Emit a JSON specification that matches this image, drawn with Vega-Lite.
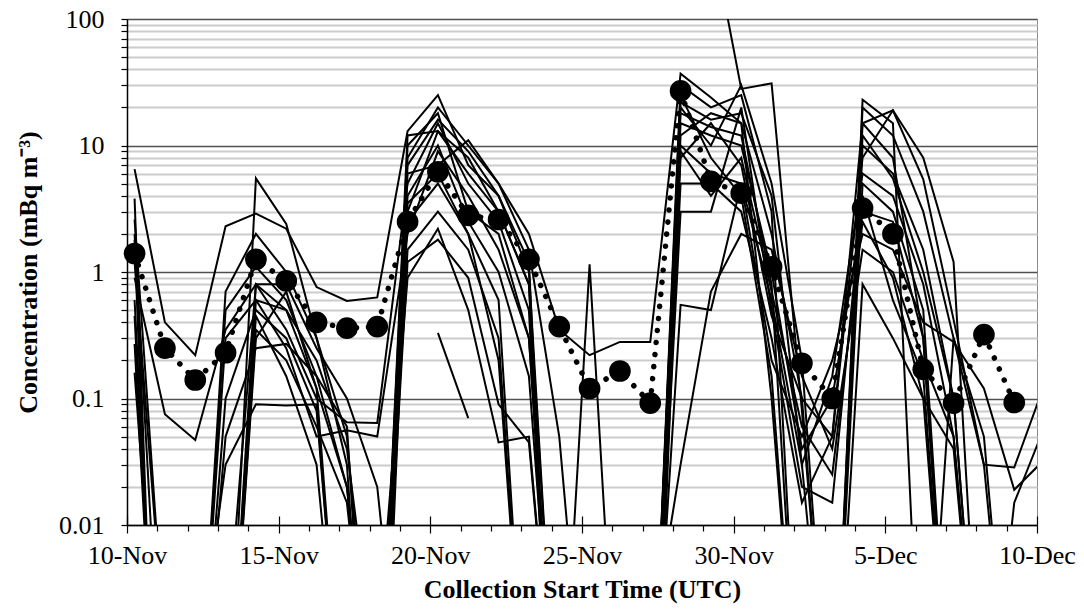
{
"$schema":"https://vega.github.io/schema/vega-lite/v6.json",
"width":910,"height":506,
"autosize":{"type":"none"},
"padding":{"left":127,"top":19,"right":47,"bottom":89},
"background":"white",
"config":{"view":{"stroke":"#8c8c8c","strokeWidth":1},"font":"Liberation Serif"},
"datasets":{
"ens":[
{"m":1,"t":"2011-11-10T06:00","v":6.5},{"m":1,"t":"2011-11-11T06:00","v":0.40},{"m":1,"t":"2011-11-12T06:00","v":0.22},{"m":1,"t":"2011-11-13T06:00","v":2.3},{"m":1,"t":"2011-11-14T06:00","v":2.9},{"m":1,"t":"2011-11-15T06:00","v":2.2},{"m":1,"t":"2011-11-16T06:00","v":0.76},{"m":1,"t":"2011-11-17T06:00","v":0.59},{"m":1,"t":"2011-11-18T06:00","v":0.63},{"m":1,"t":"2011-11-19T06:00","v":13},{"m":1,"t":"2011-11-20T06:00","v":25},{"m":1,"t":"2011-11-21T06:00","v":7},{"m":1,"t":"2011-11-22T06:00","v":4},{"m":1,"t":"2011-11-23T06:00","v":1.2},{"m":1,"t":"2011-11-24T06:00","v":0.00001},
{"m":2,"t":"2011-11-10T06:00","v":3.8},{"m":2,"t":"2011-11-11T06:00","v":0.000001},
{"m":3,"t":"2011-11-10T06:00","v":2.6},{"m":3,"t":"2011-11-11T06:00","v":0.001},
{"m":4,"t":"2011-11-10T06:00","v":1.8},{"m":4,"t":"2011-11-11T06:00","v":0.000001},{"m":4,"t":"2011-11-13T06:00","v":0.0001},{"m":4,"t":"2011-11-14T06:00","v":0.8},{"m":4,"t":"2011-11-15T06:00","v":0.5},{"m":4,"t":"2011-11-16T06:00","v":0.12},{"m":4,"t":"2011-11-17T06:00","v":0.0001},
{"m":5,"t":"2011-11-10T06:00","v":0.45},{"m":5,"t":"2011-11-11T06:00","v":0.00001},{"m":5,"t":"2011-11-13T06:00","v":0.0001},{"m":5,"t":"2011-11-14T06:00","v":5.5},{"m":5,"t":"2011-11-15T06:00","v":2.4},{"m":5,"t":"2011-11-16T06:00","v":0.3},{"m":5,"t":"2011-11-17T06:00","v":0.05},{"m":5,"t":"2011-11-18T06:00","v":0.0001},
{"m":6,"t":"2011-11-10T06:00","v":0.27},{"m":6,"t":"2011-11-11T06:00","v":0.00001},{"m":6,"t":"2011-11-13T06:00","v":0.03},{"m":6,"t":"2011-11-14T06:00","v":0.09},{"m":6,"t":"2011-11-15T06:00","v":0.088},{"m":6,"t":"2011-11-16T06:00","v":0.09},{"m":6,"t":"2011-11-17T06:00","v":0.0001},
{"m":7,"t":"2011-11-10T06:00","v":0.16},{"m":7,"t":"2011-11-11T06:00","v":0.0001},{"m":7,"t":"2011-11-12T06:00","v":0.0001},{"m":7,"t":"2011-11-13T06:00","v":0.7},{"m":7,"t":"2011-11-14T06:00","v":2.0},{"m":7,"t":"2011-11-15T06:00","v":1.0},{"m":7,"t":"2011-11-16T06:00","v":0.3},{"m":7,"t":"2011-11-17T06:00","v":0.03},{"m":7,"t":"2011-11-18T06:00","v":0.00001},
{"m":8,"t":"2011-11-10T06:00","v":1.2},{"m":8,"t":"2011-11-11T06:00","v":0.001},{"m":8,"t":"2011-11-12T06:00","v":0.0001},{"m":8,"t":"2011-11-13T06:00","v":0.5},{"m":8,"t":"2011-11-14T06:00","v":1.1},{"m":8,"t":"2011-11-15T06:00","v":0.6},{"m":8,"t":"2011-11-16T06:00","v":0.15},{"m":8,"t":"2011-11-17T06:00","v":0.02},{"m":8,"t":"2011-11-18T06:00","v":0.0001},
{"m":9,"t":"2011-11-10T06:00","v":0.9},{"m":9,"t":"2011-11-11T06:00","v":0.075},{"m":9,"t":"2011-11-12T06:00","v":0.047},{"m":9,"t":"2011-11-13T06:00","v":0.35},{"m":9,"t":"2011-11-14T06:00","v":0.8},{"m":9,"t":"2011-11-15T06:00","v":0.35},{"m":9,"t":"2011-11-16T06:00","v":0.1},{"m":9,"t":"2011-11-17T06:00","v":0.065},{"m":9,"t":"2011-11-18T06:00","v":0.064},{"m":9,"t":"2011-11-19T06:00","v":5},{"m":9,"t":"2011-11-20T06:00","v":15},{"m":9,"t":"2011-11-21T06:00","v":5},{"m":9,"t":"2011-11-22T06:00","v":2.5},{"m":9,"t":"2011-11-23T06:00","v":0.5},{"m":9,"t":"2011-11-24T06:00","v":0.00001},
{"m":10,"t":"2011-11-12T06:00","v":0.0001},{"m":10,"t":"2011-11-13T06:00","v":0.3},{"m":10,"t":"2011-11-14T06:00","v":0.6},{"m":10,"t":"2011-11-15T06:00","v":0.25},{"m":10,"t":"2011-11-16T06:00","v":0.05},{"m":10,"t":"2011-11-17T06:00","v":0.056},{"m":10,"t":"2011-11-18T06:00","v":0.05},{"m":10,"t":"2011-11-19T06:00","v":2},{"m":10,"t":"2011-11-20T06:00","v":9},{"m":10,"t":"2011-11-21T06:00","v":4},{"m":10,"t":"2011-11-22T06:00","v":1.5},{"m":10,"t":"2011-11-23T06:00","v":0.3},{"m":10,"t":"2011-11-24T06:00","v":0.0001},
{"m":11,"t":"2011-11-12T06:00","v":0.0001},{"m":11,"t":"2011-11-13T06:00","v":0.1},{"m":11,"t":"2011-11-14T06:00","v":0.5},{"m":11,"t":"2011-11-15T06:00","v":0.3},{"m":11,"t":"2011-11-16T06:00","v":0.08},{"m":11,"t":"2011-11-17T06:00","v":0.0001},{"m":11,"t":"2011-11-18T06:00","v":0.0001},{"m":11,"t":"2011-11-19T06:00","v":8},{"m":11,"t":"2011-11-20T06:00","v":20},{"m":11,"t":"2011-11-21T06:00","v":10},{"m":11,"t":"2011-11-22T06:00","v":5},{"m":11,"t":"2011-11-23T06:00","v":2},{"m":11,"t":"2011-11-24T06:00","v":0.35},{"m":11,"t":"2011-11-25T06:00","v":0.22},{"m":11,"t":"2011-11-26T06:00","v":0.28},{"m":11,"t":"2011-11-27T06:00","v":0.28},{"m":11,"t":"2011-11-28T06:00","v":37},{"m":11,"t":"2011-11-29T06:00","v":24},{"m":11,"t":"2011-11-30T06:00","v":15},{"m":11,"t":"2011-12-01T06:00","v":2},{"m":11,"t":"2011-12-02T06:00","v":0.1},{"m":11,"t":"2011-12-03T06:00","v":0.05},{"m":11,"t":"2011-12-04T06:00","v":15},{"m":11,"t":"2011-12-05T06:00","v":19},{"m":11,"t":"2011-12-06T06:00","v":5.4},{"m":11,"t":"2011-12-07T06:00","v":0.42},{"m":11,"t":"2011-12-08T06:00","v":0.03},{"m":11,"t":"2011-12-09T06:00","v":0.0285},{"m":11,"t":"2011-12-10T06:00","v":0.13},
{"m":12,"t":"2011-11-13T06:00","v":0.0001},{"m":12,"t":"2011-11-14T06:00","v":0.3},{"m":12,"t":"2011-11-15T06:00","v":0.7},{"m":12,"t":"2011-11-16T06:00","v":0.12},{"m":12,"t":"2011-11-17T06:00","v":0.02},{"m":12,"t":"2011-11-18T06:00","v":0.0001},{"m":12,"t":"2011-11-19T06:00","v":3},{"m":12,"t":"2011-11-20T06:00","v":13},{"m":12,"t":"2011-11-21T06:00","v":8},{"m":12,"t":"2011-11-22T06:00","v":3},{"m":12,"t":"2011-11-23T06:00","v":0.8},{"m":12,"t":"2011-11-24T06:00","v":0.00001},
{"m":13,"t":"2011-11-12T06:00","v":0.0001},{"m":13,"t":"2011-11-13T06:00","v":0.05},{"m":13,"t":"2011-11-14T06:00","v":0.25},{"m":13,"t":"2011-11-15T06:00","v":0.27},{"m":13,"t":"2011-11-16T06:00","v":0.15},{"m":13,"t":"2011-11-17T06:00","v":0.06},{"m":13,"t":"2011-11-18T06:00","v":0.00001},
{"m":14,"t":"2011-11-18T06:00","v":0.0001},{"m":14,"t":"2011-11-19T06:00","v":10},{"m":14,"t":"2011-11-20T06:00","v":18},{"m":14,"t":"2011-11-21T06:00","v":3},{"m":14,"t":"2011-11-22T06:00","v":2},{"m":14,"t":"2011-11-23T06:00","v":0.3},{"m":14,"t":"2011-11-24T06:00","v":0.0001},
{"m":15,"t":"2011-11-18T06:00","v":0.0001},{"m":15,"t":"2011-11-19T06:00","v":6},{"m":15,"t":"2011-11-20T06:00","v":7},{"m":15,"t":"2011-11-21T06:00","v":11},{"m":15,"t":"2011-11-22T06:00","v":5},{"m":15,"t":"2011-11-23T06:00","v":1.5},{"m":15,"t":"2011-11-24T06:00","v":0.05},{"m":15,"t":"2011-11-25T06:00","v":0.0001},
{"m":16,"t":"2011-11-18T06:00","v":0.0001},{"m":16,"t":"2011-11-19T06:00","v":2.5},{"m":16,"t":"2011-11-20T06:00","v":5},{"m":16,"t":"2011-11-21T06:00","v":2},{"m":16,"t":"2011-11-22T06:00","v":0.6},{"m":16,"t":"2011-11-23T06:00","v":0.0001},
{"m":17,"t":"2011-11-18T06:00","v":0.0001},{"m":17,"t":"2011-11-19T06:00","v":1.5},{"m":17,"t":"2011-11-20T06:00","v":3},{"m":17,"t":"2011-11-21T06:00","v":1.5},{"m":17,"t":"2011-11-22T06:00","v":0.3},{"m":17,"t":"2011-11-23T06:00","v":0.0001},
{"m":18,"t":"2011-11-18T06:00","v":0.001},{"m":18,"t":"2011-11-19T06:00","v":0.9},{"m":18,"t":"2011-11-20T06:00","v":2.2},{"m":18,"t":"2011-11-21T06:00","v":0.5},{"m":18,"t":"2011-11-22T06:00","v":0.045},{"m":18,"t":"2011-11-23T06:00","v":0.05},{"m":18,"t":"2011-11-24T06:00","v":0.0001},
{"m":19,"t":"2011-11-20T06:00","v":0.33},{"m":19,"t":"2011-11-21T06:00","v":0.07},
{"m":20,"t":"2011-11-18T06:00","v":0.0001},{"m":20,"t":"2011-11-19T06:00","v":12},{"m":20,"t":"2011-11-20T06:00","v":13},{"m":20,"t":"2011-11-21T06:00","v":6},{"m":20,"t":"2011-11-22T06:00","v":3},{"m":20,"t":"2011-11-23T06:00","v":0.8},{"m":20,"t":"2011-11-24T06:00","v":0.0001},{"m":20,"t":"2011-11-25T06:00","v":1.15},{"m":20,"t":"2011-11-26T06:00","v":0.0001},
{"m":21,"t":"2011-11-27T06:00","v":0.0001},{"m":21,"t":"2011-11-28T06:00","v":30},{"m":21,"t":"2011-11-29T06:00","v":20},{"m":21,"t":"2011-11-30T06:00","v":25},{"m":21,"t":"2011-12-01T06:00","v":3},{"m":21,"t":"2011-12-02T06:00","v":0.0001},{"m":21,"t":"2011-12-03T06:00","v":0.0001},{"m":21,"t":"2011-12-04T06:00","v":10},{"m":21,"t":"2011-12-05T06:00","v":6},{"m":21,"t":"2011-12-06T06:00","v":1.5},{"m":21,"t":"2011-12-07T06:00","v":0.1},{"m":21,"t":"2011-12-08T06:00","v":0.0001},
{"m":22,"t":"2011-11-27T06:00","v":0.0001},{"m":22,"t":"2011-11-28T06:00","v":20},{"m":22,"t":"2011-11-29T06:00","v":10},{"m":22,"t":"2011-11-30T06:00","v":30},{"m":22,"t":"2011-12-01T06:00","v":5},{"m":22,"t":"2011-12-02T06:00","v":0.2},{"m":22,"t":"2011-12-03T06:00","v":0.0001},{"m":22,"t":"2011-12-04T06:00","v":20},{"m":22,"t":"2011-12-05T06:00","v":12},{"m":22,"t":"2011-12-06T06:00","v":3},{"m":22,"t":"2011-12-07T06:00","v":0.3},{"m":22,"t":"2011-12-08T06:00","v":0.03},{"m":22,"t":"2011-12-09T06:00","v":0.0001},
{"m":23,"t":"2011-11-29T06:00","v":500},{"m":23,"t":"2011-11-30T06:00","v":28},{"m":23,"t":"2011-12-01T06:00","v":31},{"m":23,"t":"2011-12-02T06:00","v":0.08},{"m":23,"t":"2011-12-03T06:00","v":0.0001},
{"m":24,"t":"2011-11-27T06:00","v":0.0001},{"m":24,"t":"2011-11-28T06:00","v":15},{"m":24,"t":"2011-11-29T06:00","v":12},{"m":24,"t":"2011-11-30T06:00","v":10},{"m":24,"t":"2011-12-01T06:00","v":1},{"m":24,"t":"2011-12-02T06:00","v":0.04},{"m":24,"t":"2011-12-03T06:00","v":0.1},{"m":24,"t":"2011-12-04T06:00","v":3},{"m":24,"t":"2011-12-05T06:00","v":2.5},{"m":24,"t":"2011-12-06T06:00","v":0.3},{"m":24,"t":"2011-12-07T06:00","v":0.0001},
{"m":25,"t":"2011-11-27T06:00","v":0.00001},{"m":25,"t":"2011-11-28T06:00","v":10},{"m":25,"t":"2011-11-29T06:00","v":6},{"m":25,"t":"2011-11-30T06:00","v":5},{"m":25,"t":"2011-12-01T06:00","v":0.6},{"m":25,"t":"2011-12-02T06:00","v":0.03},{"m":25,"t":"2011-12-03T06:00","v":0.15},{"m":25,"t":"2011-12-04T06:00","v":6},{"m":25,"t":"2011-12-05T06:00","v":4},{"m":25,"t":"2011-12-06T06:00","v":0.8},{"m":25,"t":"2011-12-07T06:00","v":0.05},{"m":25,"t":"2011-12-08T06:00","v":0.0001},
{"m":26,"t":"2011-11-27T06:00","v":0.0001},{"m":26,"t":"2011-11-28T06:00","v":8},{"m":26,"t":"2011-11-29T06:00","v":15},{"m":26,"t":"2011-11-30T06:00","v":7},{"m":26,"t":"2011-12-01T06:00","v":0.45},{"m":26,"t":"2011-12-02T06:00","v":0.1},{"m":26,"t":"2011-12-03T06:00","v":0.0001},{"m":26,"t":"2011-12-04T06:00","v":23},{"m":26,"t":"2011-12-05T06:00","v":15},{"m":26,"t":"2011-12-06T06:00","v":0.0001},
{"m":27,"t":"2011-11-27T06:00","v":0.0001},{"m":27,"t":"2011-11-28T06:00","v":5},{"m":27,"t":"2011-11-29T06:00","v":5},{"m":27,"t":"2011-11-30T06:00","v":3},{"m":27,"t":"2011-12-01T06:00","v":0.3},{"m":27,"t":"2011-12-02T06:00","v":0.015},{"m":27,"t":"2011-12-03T06:00","v":0.05},{"m":27,"t":"2011-12-04T06:00","v":8},{"m":27,"t":"2011-12-05T06:00","v":19},{"m":27,"t":"2011-12-06T06:00","v":8},{"m":27,"t":"2011-12-07T06:00","v":1.2},{"m":27,"t":"2011-12-08T06:00","v":0.0001},
{"m":28,"t":"2011-11-27T06:00","v":0.001},{"m":28,"t":"2011-11-28T06:00","v":0.03},{"m":28,"t":"2011-11-29T06:00","v":0.7},{"m":28,"t":"2011-11-30T06:00","v":2},{"m":28,"t":"2011-12-01T06:00","v":1.5},{"m":28,"t":"2011-12-02T06:00","v":0.15},{"m":28,"t":"2011-12-03T06:00","v":0.04},{"m":28,"t":"2011-12-04T06:00","v":1.5},{"m":28,"t":"2011-12-05T06:00","v":1},{"m":28,"t":"2011-12-06T06:00","v":0.2},{"m":28,"t":"2011-12-07T06:00","v":0.05},{"m":28,"t":"2011-12-08T06:00","v":0.0001},
{"m":29,"t":"2011-11-27T06:00","v":0.0001},{"m":29,"t":"2011-11-28T06:00","v":3},{"m":29,"t":"2011-11-29T06:00","v":3},{"m":29,"t":"2011-11-30T06:00","v":20},{"m":29,"t":"2011-12-01T06:00","v":0.5},{"m":29,"t":"2011-12-02T06:00","v":0.02},{"m":29,"t":"2011-12-03T06:00","v":0.015},{"m":29,"t":"2011-12-04T06:00","v":4},{"m":29,"t":"2011-12-05T06:00","v":0.6},{"m":29,"t":"2011-12-06T06:00","v":0.15},{"m":29,"t":"2011-12-07T06:00","v":0.0001},
{"m":30,"t":"2011-11-27T06:00","v":0.0001},{"m":30,"t":"2011-11-28T06:00","v":12},{"m":30,"t":"2011-11-29T06:00","v":18},{"m":30,"t":"2011-11-30T06:00","v":15},{"m":30,"t":"2011-12-01T06:00","v":0.1},{"m":30,"t":"2011-12-02T06:00","v":0.0001},
{"m":31,"t":"2011-11-27T06:00","v":0.0001},{"m":31,"t":"2011-11-28T06:00","v":0.55},{"m":31,"t":"2011-11-29T06:00","v":0.5},{"m":31,"t":"2011-11-30T06:00","v":5},{"m":31,"t":"2011-12-01T06:00","v":0.2},{"m":31,"t":"2011-12-02T06:00","v":0.05},{"m":31,"t":"2011-12-03T06:00","v":0.2},{"m":31,"t":"2011-12-04T06:00","v":2},{"m":31,"t":"2011-12-05T06:00","v":1.5},{"m":31,"t":"2011-12-06T06:00","v":0.4},{"m":31,"t":"2011-12-07T06:00","v":0.28},{"m":31,"t":"2011-12-08T06:00","v":0.12},{"m":31,"t":"2011-12-09T06:00","v":0.019},{"m":31,"t":"2011-12-10T06:00","v":0.033},
{"m":32,"t":"2011-11-27T06:00","v":0.0001},{"m":32,"t":"2011-11-28T06:00","v":25},{"m":32,"t":"2011-11-29T06:00","v":8},{"m":32,"t":"2011-11-30T06:00","v":4},{"m":32,"t":"2011-12-01T06:00","v":0.15},{"m":32,"t":"2011-12-02T06:00","v":0.0001},{"m":32,"t":"2011-12-03T06:00","v":0.0001},{"m":32,"t":"2011-12-04T06:00","v":12},{"m":32,"t":"2011-12-05T06:00","v":5.5},{"m":32,"t":"2011-12-06T06:00","v":1},{"m":32,"t":"2011-12-07T06:00","v":0.1},{"m":32,"t":"2011-12-08T06:00","v":0.0001},
{"m":33,"t":"2011-12-03T06:00","v":0.0001},{"m":33,"t":"2011-12-04T06:00","v":0.8},{"m":33,"t":"2011-12-05T06:00","v":0.3},{"m":33,"t":"2011-12-06T06:00","v":0.1},{"m":33,"t":"2011-12-07T06:00","v":0.04},{"m":33,"t":"2011-12-08T06:00","v":0.0001},
{"m":34,"t":"2011-12-06T06:00","v":0.0001},{"m":34,"t":"2011-12-07T06:00","v":0.3},{"m":34,"t":"2011-12-08T06:00","v":0.05},{"m":34,"t":"2011-12-09T06:00","v":0.0001},
{"m":35,"t":"2011-12-08T06:00","v":0.0001},{"m":35,"t":"2011-12-09T06:00","v":0.015},{"m":35,"t":"2011-12-10T06:00","v":0.06},
{"m":36,"t":"2011-12-03T06:00","v":0.0001},{"m":36,"t":"2011-12-04T06:00","v":5},{"m":36,"t":"2011-12-05T06:00","v":3},{"m":36,"t":"2011-12-06T06:00","v":0.5},{"m":36,"t":"2011-12-07T06:00","v":0.0001},
{"m":37,"t":"2011-11-10T06:00","v":0.6},{"m":37,"t":"2011-11-11T06:00","v":0.00001},
{"m":38,"t":"2011-11-18T06:00","v":0.0001},{"m":38,"t":"2011-11-19T06:00","v":4},{"m":38,"t":"2011-11-20T06:00","v":10},{"m":38,"t":"2011-11-21T06:00","v":2.5},{"m":38,"t":"2011-11-22T06:00","v":1},{"m":38,"t":"2011-11-23T06:00","v":0.15},{"m":38,"t":"2011-11-24T06:00","v":0.0001},
{"m":39,"t":"2011-11-27T06:00","v":0.0001},{"m":39,"t":"2011-11-28T06:00","v":18},{"m":39,"t":"2011-11-29T06:00","v":14},{"m":39,"t":"2011-11-30T06:00","v":12},{"m":39,"t":"2011-12-01T06:00","v":0.8},{"m":39,"t":"2011-12-02T06:00","v":0.0001},
{"m":40,"t":"2011-11-18T06:00","v":0.0001},{"m":40,"t":"2011-11-19T06:00","v":7},{"m":40,"t":"2011-11-20T06:00","v":16},{"m":40,"t":"2011-11-21T06:00","v":9},{"m":40,"t":"2011-11-22T06:00","v":4},{"m":40,"t":"2011-11-23T06:00","v":1},{"m":40,"t":"2011-11-24T06:00","v":0.0001},
{"m":41,"t":"2011-11-18T06:00","v":0.00001},{"m":41,"t":"2011-11-19T06:00","v":3.5},{"m":41,"t":"2011-11-20T06:00","v":6},{"m":41,"t":"2011-11-21T06:00","v":2},{"m":41,"t":"2011-11-22T06:00","v":0.2},{"m":41,"t":"2011-11-23T06:00","v":0.0001},
{"m":42,"t":"2011-11-18T06:00","v":0.0001},{"m":42,"t":"2011-11-19T06:00","v":1.2},{"m":42,"t":"2011-11-20T06:00","v":1.8},{"m":42,"t":"2011-11-21T06:00","v":0.9},{"m":42,"t":"2011-11-22T06:00","v":0.09},{"m":42,"t":"2011-11-23T06:00","v":0.045},{"m":42,"t":"2011-11-24T06:00","v":0.0001},
{"m":43,"t":"2011-11-27T06:00","v":0.0001},{"m":43,"t":"2011-11-28T06:00","v":22},{"m":43,"t":"2011-11-29T06:00","v":16},{"m":43,"t":"2011-11-30T06:00","v":18},{"m":43,"t":"2011-12-01T06:00","v":4},{"m":43,"t":"2011-12-02T06:00","v":0.03},{"m":43,"t":"2011-12-03T06:00","v":0.0001},
{"m":44,"t":"2011-11-27T06:00","v":0.0001},{"m":44,"t":"2011-11-28T06:00","v":9},{"m":44,"t":"2011-11-29T06:00","v":4},{"m":44,"t":"2011-11-30T06:00","v":8},{"m":44,"t":"2011-12-01T06:00","v":0.7},{"m":44,"t":"2011-12-02T06:00","v":0.06},{"m":44,"t":"2011-12-03T06:00","v":0.025},{"m":44,"t":"2011-12-04T06:00","v":2.5},{"m":44,"t":"2011-12-05T06:00","v":0.9},{"m":44,"t":"2011-12-06T06:00","v":0.1},{"m":44,"t":"2011-12-07T06:00","v":0.0001},
{"m":45,"t":"2011-12-03T06:00","v":0.0001},{"m":45,"t":"2011-12-04T06:00","v":15},{"m":45,"t":"2011-12-05T06:00","v":8},{"m":45,"t":"2011-12-06T06:00","v":0.3},{"m":45,"t":"2011-12-07T06:00","v":0.0001},
{"m":46,"t":"2011-11-13T06:00","v":0.0001},{"m":46,"t":"2011-11-14T06:00","v":0.45},{"m":46,"t":"2011-11-15T06:00","v":0.15},{"m":46,"t":"2011-11-16T06:00","v":0.03},{"m":46,"t":"2011-11-17T06:00","v":0.0001},
{"m":47,"t":"2011-11-10T06:00","v":2.0},{"m":47,"t":"2011-11-11T06:00","v":0.0001},
{"m":48,"t":"2011-11-13T06:00","v":0.0001},{"m":48,"t":"2011-11-14T06:00","v":0.6},{"m":48,"t":"2011-11-15T06:00","v":0.5},{"m":48,"t":"2011-11-16T06:00","v":0.2},{"m":48,"t":"2011-11-17T06:00","v":0.04},{"m":48,"t":"2011-11-18T06:00","v":0.0005},
{"m":49,"t":"2011-11-13T06:00","v":0.0001},{"m":49,"t":"2011-11-14T06:00","v":0.35},{"m":49,"t":"2011-11-15T06:00","v":0.2},{"m":49,"t":"2011-11-16T06:00","v":0.06},{"m":49,"t":"2011-11-17T06:00","v":0.015},{"m":49,"t":"2011-11-18T06:00","v":0.0001},
{"m":50,"t":"2011-11-13T06:00","v":0.001},{"m":50,"t":"2011-11-14T06:00","v":0.8},{"m":50,"t":"2011-11-15T06:00","v":0.8},{"m":50,"t":"2011-11-16T06:00","v":0.25},{"m":50,"t":"2011-11-17T06:00","v":0.1},{"m":50,"t":"2011-11-18T06:00","v":0.02},{"m":50,"t":"2011-11-19T06:00","v":0.0001}
],
"obs":[
{"t":"2011-11-10T06:00","v":1.4},{"t":"2011-11-11T06:00","v":0.25},{"t":"2011-11-12T06:00","v":0.14},{"t":"2011-11-13T06:00","v":0.23},{"t":"2011-11-14T06:00","v":1.26},{"t":"2011-11-15T06:00","v":0.85},{"t":"2011-11-16T06:00","v":0.40},{"t":"2011-11-17T06:00","v":0.36},{"t":"2011-11-18T06:00","v":0.37},{"t":"2011-11-19T06:00","v":2.5},{"t":"2011-11-20T06:00","v":6.2},{"t":"2011-11-21T06:00","v":2.8},{"t":"2011-11-22T06:00","v":2.6},{"t":"2011-11-23T06:00","v":1.26},{"t":"2011-11-24T06:00","v":0.37},{"t":"2011-11-25T06:00","v":0.12},{"t":"2011-11-26T06:00","v":0.165},{"t":"2011-11-27T06:00","v":0.092},{"t":"2011-11-28T06:00","v":27},{"t":"2011-11-29T06:00","v":5.2},{"t":"2011-11-30T06:00","v":4.2},{"t":"2011-12-01T06:00","v":1.1},{"t":"2011-12-02T06:00","v":0.19},{"t":"2011-12-03T06:00","v":0.10},{"t":"2011-12-04T06:00","v":3.2},{"t":"2011-12-05T06:00","v":2.0},{"t":"2011-12-06T06:00","v":0.17},{"t":"2011-12-07T06:00","v":0.092},{"t":"2011-12-08T06:00","v":0.32},{"t":"2011-12-09T06:00","v":0.093}
]
},
"layer":[
{
"data":{"name":"ens"},
"mark":{"type":"line","color":"black","strokeWidth":2,"clip":true},
"encoding":{
"x":{"field":"t","type":"temporal","scale":{"domain":[{"year":2011,"month":11,"date":10},{"year":2011,"month":12,"date":10}],"nice":false},
"axis":{"tickCount":{"interval":"day","step":1},"labelExpr":"date(datum.value) % 5 == 0 ? timeFormat(datum.value, '%-d-%b') : ''","labelOverlap":false,"labelFlush":false,"labelFont":"Liberation Serif","labelFontSize":26,"labelColor":"black","labelPadding":9,"tickSize":{"condition":{"test":"date(datum.value) % 5 == 0","value":8},"value":6},"tickColor":"black","tickWidth":1.2,"domainColor":"black","domainWidth":1.5,"grid":false,"title":"Collection Start Time (UTC)","titleFont":"Liberation Serif","titleFontSize":26,"titleFontWeight":"bold","titleColor":"black","titlePadding":8}},
"y":{"field":"v","type":"quantitative","scale":{"type":"log","domain":[0.01,100],"nice":false},
"axis":{"values":[0.01,0.02,0.03,0.04,0.05,0.06,0.07,0.08,0.09,0.1,0.2,0.3,0.4,0.5,0.6,0.7,0.8,0.9,1,2,3,4,5,6,7,8,9,10,20,30,40,50,60,70,80,90,100],
"labelExpr":"indexof([0.01,0.1,1,10,100], datum.value) >= 0 ? '' + datum.value : ''","labelOverlap":false,"labelFont":"Liberation Serif","labelFontSize":26,"labelColor":"black","labelPadding":17,"tickSize":6,"tickColor":"black","tickWidth":1.2,"domainColor":"black","domainWidth":1.5,
"grid":true,"gridColor":{"condition":{"test":"indexof([0.01,0.1,1,10,100], datum.value) >= 0","value":"#505050"},"value":"#cccccc"},"gridWidth":{"condition":{"test":"indexof([0.01,0.1,1,10,100], datum.value) >= 0","value":1.4},"value":1.8},
"title":"Concentration (mBq m⁻³)","titleFont":"Liberation Serif","titleFontSize":26,"titleFontWeight":"bold","titleColor":"black","titlePadding":17}},
"detail":{"field":"m","type":"nominal"}
}
},
{
"data":{"name":"obs"},
"mark":{"type":"line","color":"black","strokeWidth":5.5,"strokeDash":[0.1,12],"strokeCap":"round","clip":true},
"encoding":{
"x":{"field":"t","type":"temporal","axis":null},
"y":{"field":"v","type":"quantitative"}
}
},
{
"data":{"name":"obs"},
"mark":{"type":"point","shape":"circle","filled":true,"color":"black","opacity":1,"size":470},
"encoding":{
"x":{"field":"t","type":"temporal","axis":{"orient":"bottom","values":[{"year":2011,"month":11,"date":10},{"year":2011,"month":11,"date":15},{"year":2011,"month":11,"date":20},{"year":2011,"month":11,"date":25},{"year":2011,"month":11,"date":30},{"year":2011,"month":12,"date":5},{"year":2011,"month":12,"date":10}],"tickSize":-9,"tickColor":"black","tickWidth":1.2,"labels":false,"domain":false,"grid":false,"title":null}},
"y":{"field":"v","type":"quantitative"}
}
}
],
"resolve":{"axis":{"x":"independent"}}
}
